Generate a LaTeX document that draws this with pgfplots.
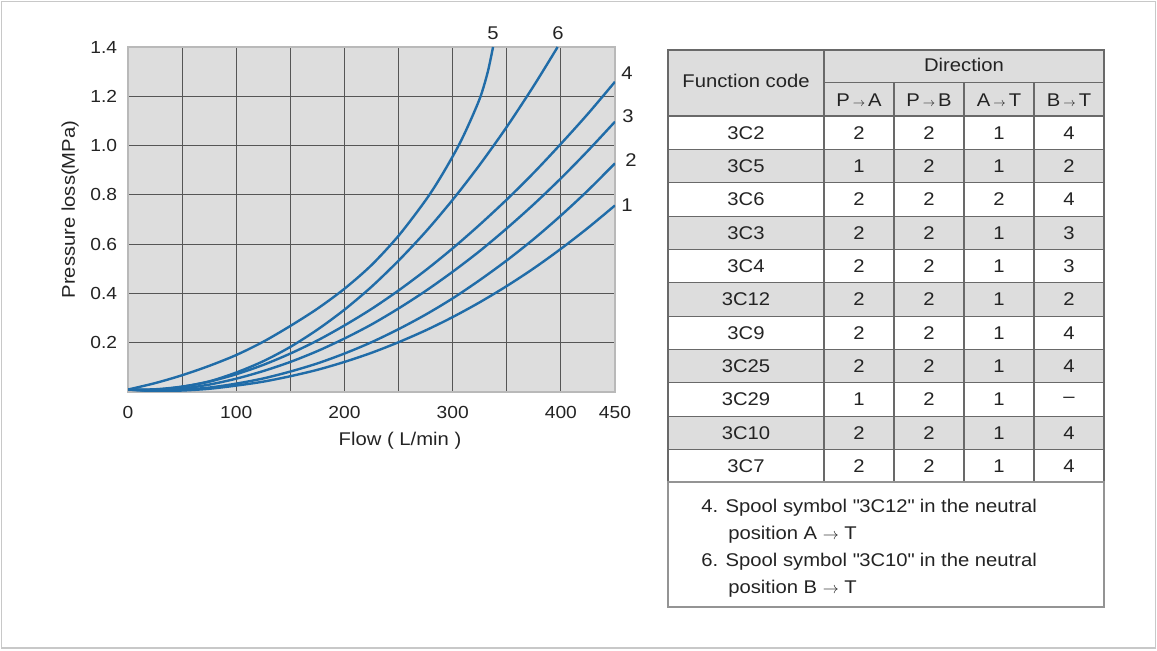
\documentclass[border=0pt]{standalone}
\usepackage{fontspec}
\setmainfont{Liberation Sans}[FakeStretch=1.1]
\usepackage{pgfplots}
\pgfplotsset{compat=1.18}
\definecolor{plotbg}{RGB}{221,221,221}
\definecolor{gridc}{RGB}{85,85,85}
\definecolor{edgec}{RGB}{185,185,185}
\definecolor{curve}{RGB}{32,108,168}
\definecolor{txt}{RGB}{35,35,35}
\definecolor{tline}{RGB}{105,105,105}
\definecolor{framec}{RGB}{200,200,200}
\definecolor{rowgray}{RGB}{221,221,221}
\newcommand{\fs}{\fontsize{13.8}{16}\selectfont}
\newcommand{\ar}{\,{\fontsize{9}{10}\selectfont$\rightarrow$}\,}
\newcommand{\far}{\ {\fontsize{12}{14}\selectfont$\rightarrow$}\ }
\begin{document}
\begin{tikzpicture}
\useasboundingbox (0,0) rectangle (867.75pt,487.5pt);
\begin{axis}[
  at={(96pt,193.5pt)}, anchor=south west, scale only axis,
  width=365.25pt, height=258.75pt,
  xmin=0, xmax=450, ymin=0, ymax=1.4,
  axis background/.style={fill=plotbg},
  axis line style={draw=edgec, line width=0.8pt},
  grid=major, major grid style={draw=gridc, line width=0.8pt},
  major tick length=0pt,
  xtick={0,50,...,400}, xticklabels={0,,100,,200,,300,,400},
  extra x ticks={450}, extra x tick labels={450}, extra x tick style={grid=none},
  ytick={0.2,0.4,0.6,0.8,1.0,1.2,1.4},
  yticklabels={0.2,0.4,0.6,0.8,1.0,1.2,1.4},
  /pgf/number format/assume math mode=true,
  every tick label/.append style={font=\fontsize{13.1}{15}\selectfont, text=txt, inner sep=0pt},
  xticklabel style={anchor=north, yshift=-10.5pt},
  yticklabel style={anchor=east, xshift=-8pt},
  clip=true,
]
% curve 1
\addplot[curve, line width=1.8pt, smooth] coordinates {(0,0.010) (25,0.004) (50,0.006) (75,0.013) (100,0.026) (125,0.042) (150,0.064) (175,0.090) (200,0.122) (225,0.159) (250,0.202) (275,0.250) (300,0.304) (325,0.364) (350,0.430) (375,0.502) (400,0.581) (425,0.666) (450,0.757)};
% curve 2
\addplot[curve, line width=1.8pt, smooth] coordinates {(0,0.010) (25,0.005) (50,0.009) (75,0.018) (100,0.034) (125,0.055) (150,0.083) (175,0.116) (200,0.156) (225,0.202) (250,0.255) (275,0.314) (300,0.380) (325,0.454) (350,0.534) (375,0.621) (400,0.716) (425,0.818) (450,0.928)};
% curve 3
\addplot[curve, line width=1.8pt, smooth] coordinates {(0,0.010) (25,0.007) (50,0.014) (75,0.030) (100,0.054) (125,0.085) (150,0.122) (175,0.166) (200,0.217) (225,0.274) (250,0.339) (275,0.410) (300,0.488) (325,0.572) (350,0.664) (375,0.762) (400,0.867) (425,0.979) (450,1.097)};
% curve 4
\addplot[curve, line width=1.8pt, smooth] coordinates {(0,0.010) (25,0.009) (50,0.021) (75,0.042) (100,0.072) (125,0.110) (150,0.156) (175,0.209) (200,0.270) (225,0.337) (250,0.412) (275,0.494) (300,0.583) (325,0.679) (350,0.781) (375,0.890) (400,1.007) (425,1.129) (450,1.259)};
% curve 6
\addplot[curve, line width=1.8pt, smooth] coordinates {(0,0.010) (25,0.011) (50,0.022) (75,0.043) (100,0.079) (125,0.125) (150,0.183) (175,0.253) (200,0.334) (225,0.427) (250,0.533) (275,0.650) (300,0.780) (325,0.922) (350,1.076) (375,1.243) (397,1.400)};
% curve 5
\addplot[curve, line width=1.8pt, smooth] coordinates {(0,0.010) (25,0.036) (50,0.068) (75,0.106) (100,0.150) (125,0.204) (150,0.268) (175,0.338) (200,0.419) (225,0.515) (250,0.634) (275,0.778) (290,0.880) (305.5,1.0) (316.3,1.1) (325.8,1.2) (332.5,1.3) (337.3,1.4)};
\end{axis}
\begin{scope}[x=0.75pt, y=-0.75pt, shift={(0pt,487.5pt)}, every node/.style={text=txt, inner sep=0pt}]
\draw[framec, line width=1pt] (1.5,1.5) rectangle (1155.5,648);
% axis labels
\node[font=\fs] at (400,441) {Flow ( L/min )};
\node[font=\fs, rotate=90] at (70,209.5) {Pressure loss(MPa)};
% curve labels
\node[font=\fs] at (493,33) {5};
\node[font=\fs] at (558,33) {6};
\node[font=\fs] at (627,73) {4};
\node[font=\fs] at (628,116) {3};
\node[font=\fs] at (631,160) {2};
\node[font=\fs] at (627,205) {1};
% table fills
\fill[rowgray] (668,50) rectangle (1104,116);
\foreach \i in {1,3,5,7,9} {
  \fill[rowgray] (668,{116+\i*33.35}) rectangle (1104,{116+(\i+1)*33.35});
}
% table lines
\foreach \i in {0,...,10} {
  \draw[tline, line width=0.8pt] (668,{116+\i*33.35}) -- (1104,{116+\i*33.35});
}
\draw[tline, line width=0.8pt] (824,82.5) -- (1104,82.5);
\draw[tline, line width=0.8pt] (824,50) -- (824,482);
\foreach \xx in {894,964,1034} {
  \draw[tline, line width=0.8pt] (\xx,82.5) -- (\xx,482);
}
\draw[tline, line width=0.8pt] (668,50) rectangle (1104,482);
\draw[edgec!80!black, line width=0.8pt] (668,482) rectangle (1104,607);
% header text
\node[font=\fs] at (746,81) {Function code};
\node[font=\fs] at (964,65) {Direction};
\node[font=\fs] at (859,100) {P\ar A};
\node[font=\fs] at (929,100) {P\ar B};
\node[font=\fs] at (999,100) {A\ar T};
\node[font=\fs] at (1069,100) {B\ar T};
% rows
\foreach \code/\a/\b/\c/\d [count=\k from 0] in {3C2/2/2/1/4, 3C5/1/2/1/2, 3C6/2/2/2/4, 3C3/2/2/1/3, 3C4/2/2/1/3, 3C12/2/2/1/2, 3C9/2/2/1/4, 3C25/2/2/1/4, 3C29/1/2/1/–, 3C10/2/2/1/4, 3C7/2/2/1/4} {
  \pgfmathsetmacro{\yy}{116+\k*33.35+16.7}
  \node[font=\fs] at (746,\yy) {\code};
  \node[font=\fs] at (859,\yy) {\a};
  \node[font=\fs] at (929,\yy) {\b};
  \node[font=\fs] at (999,\yy) {\c};
  \node[font=\fs] at (1069,\yy) {\d};
}
% footnotes
\node[font=\fs, anchor=base west] at (701,513) {4. Spool symbol \textquotedbl 3C12\textquotedbl\ in the neutral};
\node[font=\fs, anchor=base west] at (728,540) {position A\far T};
\node[font=\fs, anchor=base west] at (701,567) {6. Spool symbol \textquotedbl 3C10\textquotedbl\ in the neutral};
\node[font=\fs, anchor=base west] at (728,594) {position B\far T};
\end{scope}
\end{tikzpicture}
\end{document}
